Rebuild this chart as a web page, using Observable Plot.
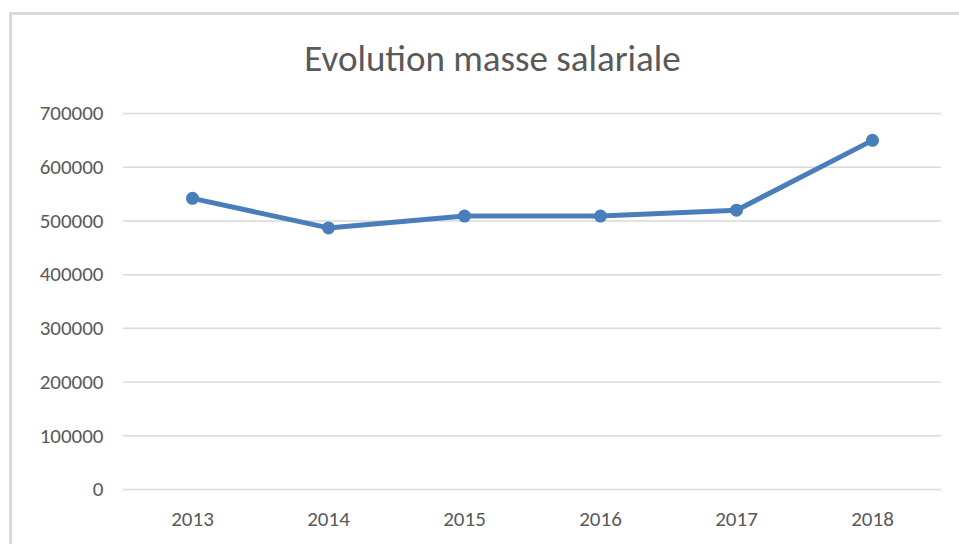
<!DOCTYPE html>
<html>
<head>
<meta charset="utf-8">
<script src="https://cdn.jsdelivr.net/npm/d3@7"></script>
<script src="https://cdn.jsdelivr.net/npm/@observablehq/plot@0.6"></script>
<style>
  html, body { margin: 0; padding: 0; background: #fff; width: 959px; height: 544px; overflow: hidden; }
  #wrap { position: relative; width: 959px; height: 544px; }
  #frame { position: absolute; left: 9px; top: 12px; width: 970px; height: 560px; border-left: 3px solid #d9d9d9; border-top: 3px solid #d9d9d9; box-sizing: border-box; }
  #title { position: absolute; left: 0; width: 985px; top: 40px; line-height: 37px; text-align: center; font-family: Carlito, Calibri, "Open Sans", sans-serif; font-size: 37px; color: #595959; }
  #chart { position: absolute; left: 0; top: 95px; }
</style>
</head>
<body>
<div id="wrap">
  <div id="frame"></div>
  <div id="title">Evolution masse salariale</div>
  <div id="chart"></div>
</div>
<script>
const years = ["2013", "2014", "2015", "2016", "2017", "2018"];
const masse = [542000, 487000, 509000, 509000, 520000, 650000];
const yTicks = [0, 100000, 200000, 300000, 400000, 500000, 600000, 700000];

const data = years.map((y, i) => ({year: y, value: masse[i]}));
const blue = "#4a7ebb";

const chart = Plot.plot({
  width: 959,
  height: 449,
  marginLeft: 123,
  marginRight: 18,
  marginTop: 18,
  marginBottom: 55,
  style: { fontFamily: 'Carlito, Calibri, "Open Sans", sans-serif', fontSize: "21px", color: "#595959", background: "transparent", overflow: "visible" },
  x: { type: "point", domain: years, padding: 0.5, label: null },
  y: { domain: [0, 700000], label: null },
  marks: [
    Plot.gridY(yTicks, { stroke: "#d9d9d9", strokeOpacity: 1, strokeWidth: 1.5 }),
    Plot.axisY(yTicks, { tickSize: 0, tickPadding: 20, tickFormat: d => String(d), fill: "#595959", label: null }),
    Plot.axisX({ tickSize: 0, tickPadding: 22, fill: "#595959", label: null }),
    Plot.line(data, { x: "year", y: "value", stroke: blue, strokeWidth: 5, strokeLinejoin: "round", strokeLinecap: "round" }),
    Plot.dot(data, { x: "year", y: "value", r: 6.5, fill: blue, stroke: "none" })
  ]
});
document.getElementById("chart").appendChild(chart);
</script>
</body>
</html>
